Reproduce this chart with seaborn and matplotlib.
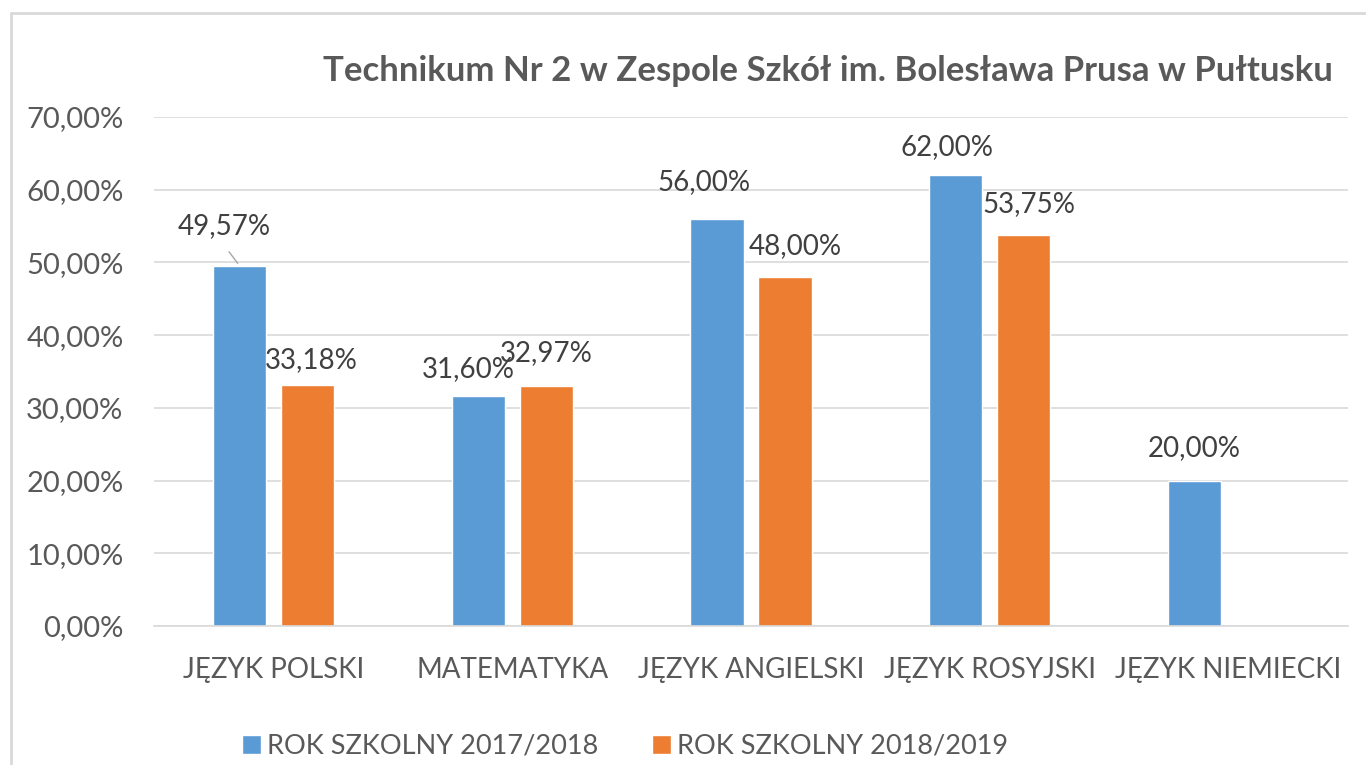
import pandas as pd
import seaborn as sns
import matplotlib.pyplot as plt
import numpy as np
from matplotlib.patches import Rectangle
from matplotlib.ticker import FuncFormatter, MultipleLocator

# Dane z wykresu
przedmioty = ['JĘZYK POLSKI', 'MATEMATYKA', 'JĘZYK ANGIELSKI', 'JĘZYK ROSYJSKI', 'JĘZYK NIEMIECKI']
rok_2017 = [49.57, 31.60, 56.00, 62.00, 20.00]
rok_2018 = [33.18, 32.97, 48.00, 53.75, np.nan]
serie = ['ROK SZKOLNY 2017/2018', 'ROK SZKOLNY 2018/2019']
tytul = 'Technikum Nr 2 w Zespole Szkół im. Bolesława Prusa w Pułtusku'

kolory = ['#5B9BD5', '#ED7D31']
szary_tekst = '#595959'
szary_linia = '#D9D9D9'

sns.set_style('white')
plt.rcParams['font.family'] = ['Lato', 'DejaVu Sans']

df = pd.DataFrame({
    'przedmiot': przedmioty * 2,
    'wynik': rok_2017 + rok_2018,
    'rok': [serie[0]] * len(przedmioty) + [serie[1]] * len(przedmioty),
})

fig = plt.figure(figsize=(13.66, 7.65), dpi=100)
ax = fig.add_axes([154 / 1366, 1 - 626 / 765, (1348 - 154) / 1366, (626 - 117) / 765])

sns.barplot(data=df, x='przedmiot', y='wynik', hue='rok', order=przedmioty,
            hue_order=serie, palette=kolory, width=0.57, gap=0.22,
            saturation=1, errorbar=None, ax=ax, legend=True)

ax.set_ylim(0, 70)
ax.set_xlim(-0.5, len(przedmioty) - 0.5)
ax.yaxis.set_major_locator(MultipleLocator(10))
ax.yaxis.set_major_formatter(FuncFormatter(lambda v, p: f'{v:.2f}'.replace('.', ',') + '%'))
ax.grid(axis='y', color=szary_linia, linewidth=1.2)
ax.set_axisbelow(True)
ax.set_xlabel('')
ax.set_ylabel('')
for s in ['top', 'right', 'left']:
    ax.spines[s].set_visible(False)
ax.spines['bottom'].set_color(szary_linia)
ax.spines['bottom'].set_linewidth(1.2)
ax.tick_params(axis='both', length=0, labelsize=20, colors=szary_tekst)
ax.tick_params(axis='y', labelsize=21, pad=22)
ax.tick_params(axis='x', pad=22)

# Etykiety danych (przesunięcia w pikselach jak w oryginale)
przesuniecia = {
    (0, 0): (-15, 27), (1, 0): (4, 12),
    (0, 1): (-10, 14), (1, 1): (0, 20),
    (0, 2): (-13, 24), (1, 2): (10, 18),
    (0, 3): (-9, 15), (1, 3): (5, 18),
    (0, 4): (0, 20),
}
for si, cont in enumerate(ax.containers):
    for bar in cont:
        h = bar.get_height()
        if np.isnan(h):
            continue
        ci = int(round(bar.get_x() + bar.get_width() / 2))
        dx, dy = przesuniecia.get((si, ci), (0, 15))
        cx = bar.get_x() + bar.get_width() / 2
        ax.annotate(f'{h:.2f}'.replace('.', ',') + '%', (cx, h),
                    xytext=(dx, dy), textcoords='offset pixels',
                    ha='center', va='bottom', fontsize=20, color='#404040')

# linia odniesienia dla 49,57%
b0 = ax.containers[0][0]
ax.annotate('', (b0.get_x() + b0.get_width() / 2, b0.get_height()),
            xytext=(-12, 16), textcoords='offset pixels',
            arrowprops=dict(arrowstyle='-', color='#A6A6A6', lw=1))

handles, labels = ax.get_legend_handles_labels()
ax.legend_.remove()
fig.legend(handles, labels, loc='center', bbox_to_anchor=(625 / 1366, 1 - 746 / 765),
           ncol=2, frameon=False, fontsize=19.5, labelcolor=szary_tekst,
           handlelength=0.7, handleheight=0.7, handletextpad=0.2, columnspacing=2.0)

fig.suptitle(tytul, x=828 / 1366, y=1 - 71 / 765, va='center', ha='center',
             fontsize=25, fontweight='bold', color=szary_tekst)

# ramka obszaru wykresu
fig.patches.append(Rectangle((11 / 1366, -0.1), 1.1, 1 - 13 / 765 + 0.1,
                             transform=fig.transFigure, fill=False,
                             edgecolor=szary_linia, linewidth=2))

fig.savefig('out.png', dpi=100)
